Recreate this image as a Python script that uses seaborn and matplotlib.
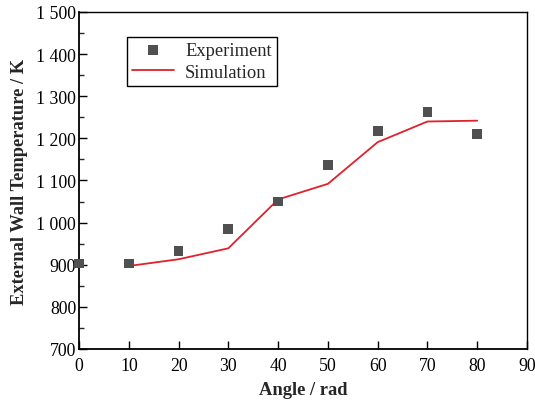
import matplotlib
matplotlib.use("Agg")
import matplotlib.pyplot as plt
from matplotlib.ticker import MultipleLocator, FuncFormatter
import seaborn as sns
import pandas as pd

# Data
exp_angle = [0, 10, 20, 30, 40, 50, 60, 70, 80]
exp_temp = [903, 903, 932, 985, 1050, 1137, 1218, 1263, 1211]

sim_angle = [10, 20, 30, 40, 50, 60, 70, 80]
sim_temp = [897, 913, 939, 1055, 1092, 1191, 1240, 1242]

sns.set_style("ticks")
plt.rcParams['font.family'] = ['Liberation Serif', 'DejaVu Serif']

exp_df = pd.DataFrame({'angle': exp_angle, 'temp': exp_temp})
sim_df = pd.DataFrame({'angle': sim_angle, 'temp': sim_temp})

fig = plt.figure(figsize=(5.35, 4.02), dpi=100)
ax = fig.add_axes([0.1477, 0.1294, 0.8373, 0.8383])

sns.lineplot(data=sim_df, x='angle', y='temp', ax=ax, color='#e0202a',
             linewidth=1.3, label='Simulation', zorder=2)
sns.scatterplot(data=exp_df, x='angle', y='temp', ax=ax, marker='s', s=50,
                color='#505050', edgecolor='none', label='Experiment',
                zorder=3, clip_on=False)

ax.set_xlim(0, 90)
ax.set_ylim(700, 1500)
ax.xaxis.set_major_locator(MultipleLocator(10))
ax.yaxis.set_major_locator(MultipleLocator(100))
ax.yaxis.set_minor_locator(MultipleLocator(50))


def thousands(v, pos):
    v = int(round(v))
    if v >= 1000:
        return f"{v // 1000} {v % 1000:03d}"
    return str(v)


ax.yaxis.set_major_formatter(FuncFormatter(thousands))
ax.tick_params(axis='both', which='major', direction='in', length=6, width=1,
               labelsize=12.8, colors='black', top=False, right=False)
ax.tick_params(axis='y', which='minor', direction='in', length=3.5, width=1)
ax.tick_params(axis='x', pad=6)
ax.tick_params(axis='y', pad=2)

for sp in ax.spines.values():
    sp.set_visible(True)
    sp.set_color('black')
    sp.set_linewidth(1.0)
ax.spines['left'].set_linewidth(1.3)
ax.spines['bottom'].set_linewidth(1.3)

ax.set_xlabel('Angle / rad', fontsize=13.3, fontweight='bold', labelpad=5)
ax.set_ylabel('External Wall Temperature / K', fontsize=13.3, fontweight='bold', labelpad=6)

handles, labels = ax.get_legend_handles_labels()
order = [labels.index('Experiment'), labels.index('Simulation')]
leg = ax.legend([handles[i] for i in order], [labels[i] for i in order],
                loc='upper left', bbox_to_anchor=(0.107, 0.927), fontsize=13.3,
                frameon=True, fancybox=False, edgecolor='black', framealpha=1,
                handlelength=2.25, borderpad=0.3, labelspacing=0.25,
                handletextpad=0.6, borderaxespad=0)
leg.get_frame().set_linewidth(1.0)

fig.savefig('out.png', dpi=100, facecolor='white')
